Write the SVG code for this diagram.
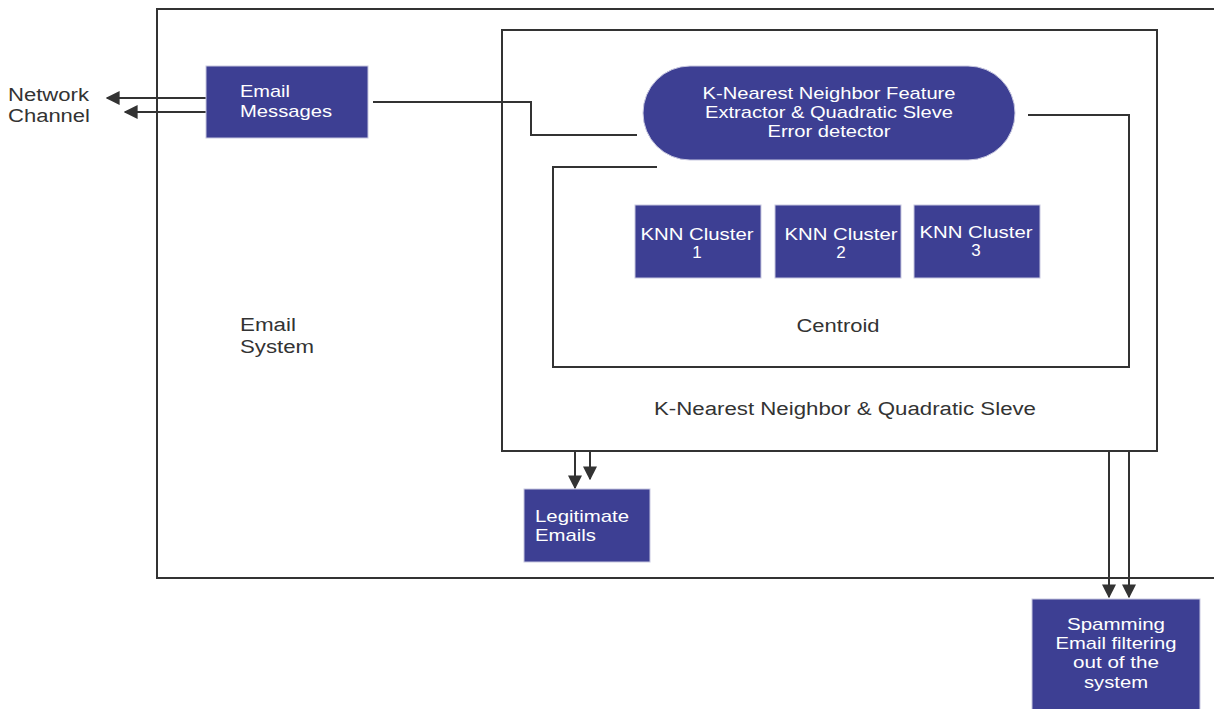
<svg xmlns="http://www.w3.org/2000/svg" width="1214" height="709" viewBox="0 0 1214 709">
<style>
.box{fill:#3d3f93;stroke:#c8c8e0;stroke-width:1}
.wt{fill:#ffffff;font-family:"Liberation Sans",Arial,sans-serif;font-size:17px;text-anchor:middle}
.ws{fill:#ffffff;font-family:"Liberation Sans",Arial,sans-serif;font-size:17px;text-anchor:start}
.bt{fill:#333333;font-family:"Liberation Sans",Arial,sans-serif;font-size:18px;text-anchor:start}
.bm{fill:#333333;font-family:"Liberation Sans",Arial,sans-serif;font-size:18px;text-anchor:middle}
.ln{fill:none;stroke:#333333;stroke-width:2}
</style>
<defs>
<marker id="ah2" viewBox="0 0 10 10" refX="9" refY="5" markerWidth="14" markerHeight="14" orient="auto" markerUnits="userSpaceOnUse">
<path d="M0,0 L10,5 L0,10 z" fill="#333333"/>
</marker>
</defs>
<rect width="1214" height="709" fill="#ffffff"/>
<g id="email-system">
<rect x="157" y="9" width="1070" height="569" class="ln"/>
<text class="bt" x="240" y="331" textLength="56" lengthAdjust="spacingAndGlyphs">Email</text>
<text class="bt" x="240" y="353" textLength="74" lengthAdjust="spacingAndGlyphs">System</text>
</g>
<g id="knn-qs">
<rect x="502" y="30" width="655" height="421" class="ln"/>
<text class="bm" x="845" y="415" textLength="382" lengthAdjust="spacingAndGlyphs">K-Nearest Neighbor &amp; Quadratic Sleve</text>
</g>
<g id="centroid">
<path class="ln" d="M657,167 H553 V367 H1129 V115 H1028"/>
<text class="bm" x="838" y="332" textLength="83" lengthAdjust="spacingAndGlyphs">Centroid</text>
</g>
<g id="network-channel">
<text class="bt" x="8" y="101" textLength="81" lengthAdjust="spacingAndGlyphs">Network</text>
<text class="bt" x="8" y="122" textLength="82" lengthAdjust="spacingAndGlyphs">Channel</text>
</g>
<g id="connectors">
<path class="ln" d="M373,102 H531 V135 H637"/>
<line class="ln" x1="206" y1="98" x2="107" y2="98" marker-end="url(#ah2)"/>
<line class="ln" x1="206" y1="112" x2="125" y2="112" marker-end="url(#ah2)"/>
<line class="ln" x1="575" y1="451" x2="575" y2="488" marker-end="url(#ah2)"/>
<line class="ln" x1="590" y1="451" x2="590" y2="479" marker-end="url(#ah2)"/>
<line class="ln" x1="1109" y1="451" x2="1109" y2="597" marker-end="url(#ah2)"/>
<line class="ln" x1="1129" y1="451" x2="1129" y2="597" marker-end="url(#ah2)"/>
</g>
<g id="email-messages">
<rect class="box" x="206" y="66" width="162" height="72"/>
<text class="ws" x="240" y="97" textLength="50" lengthAdjust="spacingAndGlyphs">Email</text>
<text class="ws" x="240" y="117" textLength="92" lengthAdjust="spacingAndGlyphs">Messages</text>
</g>
<g id="extractor">
<rect class="box" x="643" y="66" width="372" height="94" rx="47" ry="47"/>
<text class="wt" x="829" y="99" textLength="253" lengthAdjust="spacingAndGlyphs">K-Nearest Neighbor Feature</text>
<text class="wt" x="829" y="118" textLength="248" lengthAdjust="spacingAndGlyphs">Extractor &amp; Quadratic Sleve</text>
<text class="wt" x="829" y="137" textLength="123" lengthAdjust="spacingAndGlyphs">Error detector</text>
</g>
<g id="cluster1">
<rect class="box" x="635" y="205" width="126" height="73"/>
<text class="wt" x="697" y="240" textLength="113" lengthAdjust="spacingAndGlyphs">KNN Cluster</text>
<text class="wt" x="697" y="258">1</text>
</g>
<g id="cluster2">
<rect class="box" x="775" y="205" width="126" height="73"/>
<text class="wt" x="841" y="240" textLength="113" lengthAdjust="spacingAndGlyphs">KNN Cluster</text>
<text class="wt" x="841" y="258">2</text>
</g>
<g id="cluster3">
<rect class="box" x="914" y="205" width="126" height="73"/>
<text class="wt" x="976" y="238" textLength="113" lengthAdjust="spacingAndGlyphs">KNN Cluster</text>
<text class="wt" x="976" y="256">3</text>
</g>
<g id="legitimate">
<rect class="box" x="524" y="489" width="126" height="73"/>
<text class="ws" x="535" y="522" textLength="94" lengthAdjust="spacingAndGlyphs">Legitimate</text>
<text class="ws" x="535" y="541" textLength="61" lengthAdjust="spacingAndGlyphs">Emails</text>
</g>
<g id="spamming">
<rect class="box" x="1032" y="599" width="168" height="115"/>
<text class="wt" x="1116" y="630" textLength="98" lengthAdjust="spacingAndGlyphs">Spamming</text>
<text class="wt" x="1116" y="649" textLength="121" lengthAdjust="spacingAndGlyphs">Email filtering</text>
<text class="wt" x="1116" y="668" textLength="86" lengthAdjust="spacingAndGlyphs">out of the</text>
<text class="wt" x="1116" y="688" textLength="64" lengthAdjust="spacingAndGlyphs">system</text>
</g>
</svg>
